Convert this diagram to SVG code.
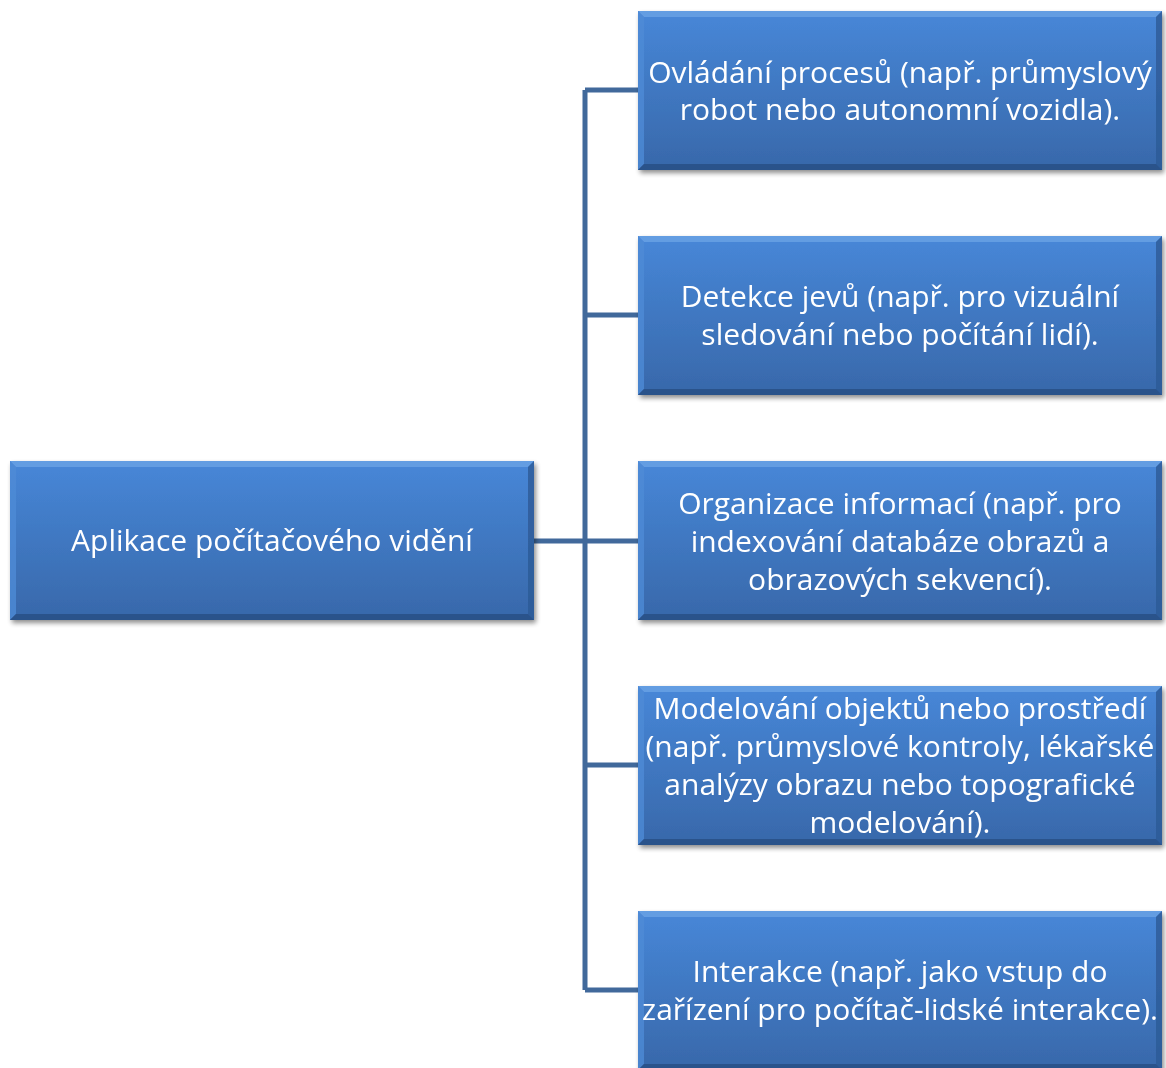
<svg xmlns="http://www.w3.org/2000/svg" width="1166" height="1068" viewBox="0 0 1166 1068">
  <defs>
    <linearGradient id="boxFill" x1="0" y1="0" x2="0" y2="1">
      <stop offset="0" stop-color="#4787d8"/>
      <stop offset="1" stop-color="#3868aa"/>
    </linearGradient>
    <filter id="shadow" x="-5%" y="-10%" width="112%" height="125%">
      <feGaussianBlur in="SourceAlpha" stdDeviation="2.5"/>
      <feOffset dx="2" dy="3" result="b"/>
      <feComponentTransfer><feFuncA type="linear" slope="0.45"/></feComponentTransfer>
      <feMerge><feMergeNode/><feMergeNode in="SourceGraphic"/></feMerge>
    </filter>
    <!-- bevelled box, 524 x 159 -->
    <g id="box">
      <rect x="0" y="0" width="524" height="159" fill="url(#boxFill)"/>
      <polygon points="0,0 524,0 518,6 6,6" fill="#6ea4e6" opacity="0.75"/>
      <polygon points="0,0 6,6 6,153 0,159" fill="#4f8bd6" opacity="0.8"/>
      <polygon points="524,0 524,159 518,153 518,6" fill="#2c5a96" opacity="0.8"/>
      <polygon points="0,159 6,153 518,153 524,159" fill="#274f85" opacity="0.85"/>
    </g>
  </defs>
  <style>
    .lbl { font-family: "Open Sans", "Noto Sans", "DejaVu Sans", sans-serif; font-size: 30px; fill: #ffffff; text-anchor: middle; }
    .conn { stroke: #41699b; stroke-width: 5; fill: none; }
  </style>
  <rect width="1166" height="1068" fill="#ffffff"/>

  <g id="connectors">
    <path class="conn" d="M534,541 H585 M585,90 V990 M585,90 H638 M585,315 H638 M585,541 H638 M585,765 H638 M585,990 H638"/>
  </g>

  <g id="root" filter="url(#shadow)">
    <use href="#box" x="10" y="461"/>
    <text class="lbl" x="272" y="551">Aplikace počítačového vidění</text>
  </g>

  <g id="n1" filter="url(#shadow)">
    <use href="#box" x="638" y="11"/>
    <text class="lbl" x="900" y="83">Ovládání procesů (např. průmyslový</text>
    <text class="lbl" x="900" y="120">robot nebo autonomní vozidla).</text>
  </g>

  <g id="n2" filter="url(#shadow)">
    <use href="#box" x="638" y="236"/>
    <text class="lbl" x="900" y="307">Detekce jevů (např. pro vizuální</text>
    <text class="lbl" x="900" y="345">sledování nebo počítání lidí).</text>
  </g>

  <g id="n3" filter="url(#shadow)">
    <use href="#box" x="638" y="461"/>
    <text class="lbl" x="900" y="514">Organizace informací (např. pro</text>
    <text class="lbl" x="900" y="552">indexování databáze obrazů a</text>
    <text class="lbl" x="900" y="590">obrazových sekvencí).</text>
  </g>

  <g id="n4" filter="url(#shadow)">
    <use href="#box" x="638" y="686"/>
    <text class="lbl" x="900" y="719">Modelování objektů nebo prostředí</text>
    <text class="lbl" x="900" y="757">(např. průmyslové kontroly, lékařské</text>
    <text class="lbl" x="900" y="795">analýzy obrazu nebo topografické</text>
    <text class="lbl" x="900" y="833">modelování).</text>
  </g>

  <g id="n5" filter="url(#shadow)">
    <use href="#box" x="638" y="911"/>
    <text class="lbl" x="900" y="982">Interakce (např. jako vstup do</text>
    <text class="lbl" x="900" y="1020">zařízení pro počítač-lidské interakce).</text>
  </g>
</svg>
